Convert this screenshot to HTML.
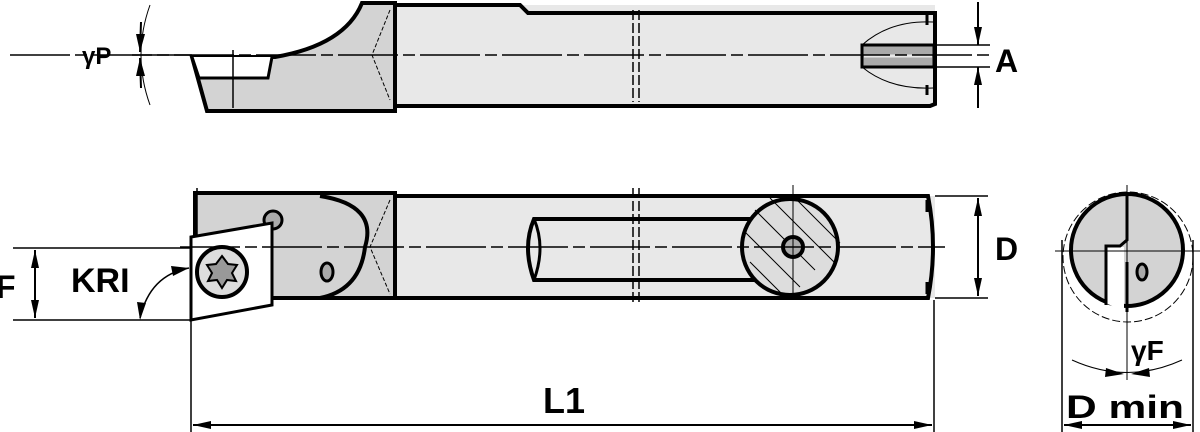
<!DOCTYPE html>
<html><head><meta charset="utf-8"><style>
html,body{margin:0;padding:0;background:#fff;}
svg{display:block;}
text{font-family:"Liberation Sans",sans-serif;font-weight:bold;fill:#000;}
</style></head><body>
<svg width="1200" height="432" viewBox="0 0 1200 432" xmlns="http://www.w3.org/2000/svg">
<defs>
<clipPath id="cf"><rect x="700" y="198" width="200" height="99"/></clipPath>
</defs>
<g stroke="#000" fill="none">
<!-- TOP VIEW -->
<rect x="395" y="5" width="540" height="101" fill="#e8e8e8" stroke="none"/>
<path d="M395,5H520L528,13H935V104L930,106H395" stroke-width="4" fill="none"/>
<path d="M192,57L207,111H395V3H362Q345,45 275,57Z" fill="#d3d3d3" stroke-width="4"/>
<path d="M395,3V111" stroke-width="4"/>
<path d="M192,57L199,78H268L272,57" fill="#fff" stroke-width="3"/>
<path d="M233,50V108" stroke-width="1.5"/>
<path d="M390,10L372,55L390,100" stroke-width="1" stroke-dasharray="4,2"/>
<path d="M862,45Q890,20 933,22M862,67Q890,90 933,88" stroke-width="1"/>
<rect x="862" y="45" width="72" height="22" fill="#aaa" stroke-width="3"/>
<path d="M864,56H932" stroke="#e8e8e8" stroke-width="3"/>
<path d="M927,15V25M927,85V95" stroke-width="3"/>
<path d="M633,10V102M639,10V102" stroke-width="1.5" stroke-dasharray="10,3"/>
<path d="M10,55H990" stroke-width="1.5" stroke-dasharray="60,5,12,5"/>
<path d="M935,45H990M935,67H990" stroke-width="1.5"/>
<path d="M978,2V45M978,108V67" stroke-width="2"/>
<path d="M150,5Q132,55 150,105" stroke-width="1"/>
<path d="M141,22L140,52M141,88L140,58" stroke-width="2"/>
<path d="M132,55H192" stroke-width="1.5"/>

<!-- FRONT VIEW -->
<rect x="395" y="196" width="540" height="102" fill="#e8e8e8" stroke="none"/>
<path d="M395,196H928Q938,247 928,298H395" stroke-width="4"/>
<rect x="195" y="193" width="200" height="105" fill="#d3d3d3" stroke-width="4"/>
<path d="M320,196Q378,205 365,247Q360,290 320,298" stroke-width="4"/>
<path d="M390,200L370,247L390,294" stroke-width="1" stroke-dasharray="4,2"/>
<circle cx="273" cy="220" r="9" fill="#aaa" stroke-width="3"/>
<path d="M191,237L272,223V305L191,320Z" fill="#fff" stroke-width="3"/>
<circle cx="222" cy="272" r="25" fill="#ddd" stroke-width="4"/>
<path d="M222,256L228,264L237,265L232,273L236,281L227,280L222,288L217,280L208,281L212,273L207,265L216,264Z" fill="#999" stroke-width="2"/>
<ellipse cx="327" cy="272" rx="6" ry="9" fill="#aaa" stroke-width="3"/>
<path d="M760,219H534Q522,247 534,280H760" stroke-width="4" fill="#e8e8e8"/>
<path d="M534,219Q546,247 534,280" stroke-width="3"/>
<g clip-path="url(#cf)">
<circle cx="790" cy="247" r="48" fill="#ddd" stroke-width="4"/>
<path d="M755,210L815,270M745,232L800,287M770,198L835,263M795,198L840,243M750,262L785,297" stroke-width="1"/>
</g>
<circle cx="793" cy="247" r="10" fill="#aaa" stroke-width="4"/>
<path d="M793,185V300" stroke-width="1"/>
<path d="M927,200V212M927,282V294" stroke-width="3"/>
<path d="M633,188V305M639,188V305" stroke-width="1.5" stroke-dasharray="10,3"/>
<path d="M180,247H945" stroke-width="1.5" stroke-dasharray="60,5,12,5"/>
<path d="M935,196H988M935,298H988" stroke-width="1.5"/>
<path d="M978,198V296" stroke-width="2"/>
<path d="M13,248H190M13,320H190" stroke-width="1.5"/>
<path d="M35,250V318" stroke-width="2"/>
<path d="M140,318Q150,275 189,268" stroke-width="1.5"/>
<path d="M197,188V237" stroke-width="1.5"/>
<path d="M191,320V432M934,300V432" stroke-width="1.5"/>
<path d="M193,425H932" stroke-width="2"/>

<!-- END VIEW -->
<circle cx="1128" cy="257" r="65" stroke-width="1" stroke-dasharray="8,3"/>
<circle cx="1127" cy="250" r="56" fill="#d3d3d3" stroke-width="4"/>
<path d="M1106,247H1124V312L1106,303Z" fill="#fff" stroke="none"/>
<path d="M1127,194V240L1120,246H1106V305" stroke-width="3"/>
<path d="M1127,262V312" stroke-width="3"/>
<ellipse cx="1142" cy="272" rx="5" ry="8" fill="#aaa" stroke-width="3"/>
<path d="M1055,251H1200M1127,185V380" stroke-width="1"/>
<path d="M1062,240V432M1193,240V432" stroke-width="1.5"/>
<path d="M1064,425H1191" stroke-width="2"/>
<path d="M1072,360Q1127,385 1182,360" stroke-width="1"/>
</g>
<g fill="#000" stroke="none">
<polygon points="974,27 982,27 978,45"/>
<polygon points="974,85 982,85 978,67"/>
<polygon points="136,34 145,34 140,52"/>
<polygon points="136,76 145,76 140,58"/>
<polygon points="974,216 982,216 978,198"/>
<polygon points="974,278 982,278 978,296"/>
<polygon points="31,268 39,268 35,250"/>
<polygon points="31,300 39,300 35,318"/>
<polygon points="189,268 171,266 173,276"/>
<polygon points="140,320 137,302 146,303"/>
<polygon points="193,425 211,421 211,429"/>
<polygon points="932,425 914,421 914,429"/>
<polygon points="1064,425 1082,421 1082,429"/>
<polygon points="1191,425 1173,421 1173,429"/>
<polygon points="1124,374 1106,368 1105,377"/>
<polygon points="1131,374 1149,368 1150,377"/>
</g>
<text x="82" y="64" font-size="24">γP</text>
<text x="995" y="72" font-size="32">A</text>
<text x="995" y="260" font-size="32">D</text>
<text x="-4" y="298" font-size="32">F</text>
<text x="71" y="292" font-size="34">KRI</text>
<text x="543" y="413" font-size="36">L1</text>
<text x="1131" y="360" font-size="28">γF</text>
<text x="1066" y="418" font-size="32" textLength="118" lengthAdjust="spacingAndGlyphs">D min</text>
</svg>
</body></html>
